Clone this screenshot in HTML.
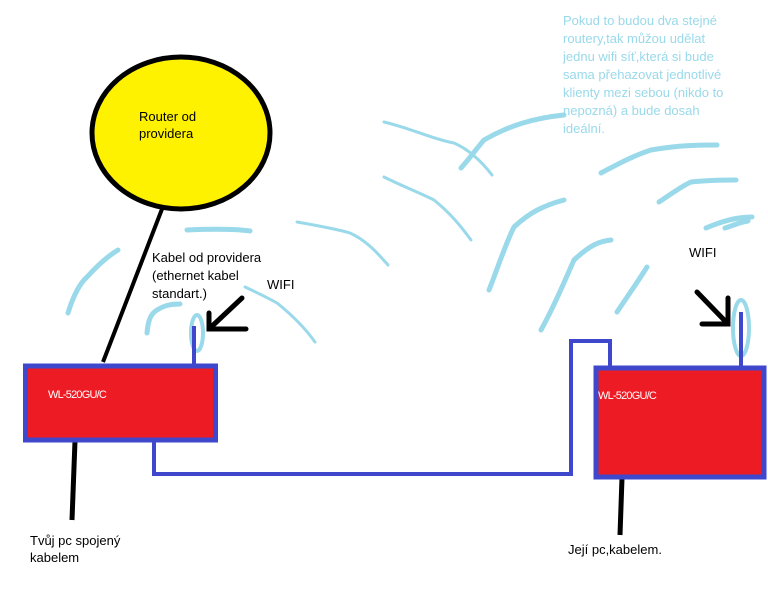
<!DOCTYPE html>
<html><head><meta charset="utf-8"><style>
html,body{margin:0;padding:0;background:#fff}
svg{display:block}
text{font-family:"Liberation Sans","DejaVu Sans",sans-serif}
</style></head><body>
<svg width="768" height="614" viewBox="0 0 768 614" xmlns="http://www.w3.org/2000/svg">
<rect width="768" height="614" fill="#fff"/>
<g fill="none" stroke="#99d9ea" stroke-linecap="round" stroke-linejoin="round">
 <g stroke-width="5">
  <path d="M68,313 C72,300 78,285 87,277 C97,266 108,256 118,250"/>
  <path d="M147,333 C148,322 150,314 157,310 C165,305 172,304 180,304"/>
  <path d="M187,230 C210,229 235,229 250,231"/>
  <path d="M461,168 C470,158 477,148 484,140 C510,125 535,118 564,115"/>
  <path d="M489,290 C497,270 505,245 514,227 C530,212 545,205 564,200"/>
  <path d="M541,330 C555,305 565,280 574,260 C590,245 600,241 611,240"/>
  <path d="M617,312 C627,297 637,283 647,267"/>
  <path d="M601,173 C620,163 635,155 651,150 C680,145 700,145 717,145"/>
  <path d="M659,202 C670,195 680,187 691,182 C710,180 725,180 736,180"/>
  <path d="M706,228 C720,222 735,217 752,217"/>
  <path d="M725,228 C735,225 740,222 748,221"/>
 </g>
 <ellipse cx="197" cy="333" rx="6" ry="18" stroke-width="4"/>
 <ellipse cx="741" cy="328" rx="8" ry="28" stroke-width="4"/>
 <g stroke-width="3">
  <path d="M297,222 C320,226 340,230 350,233 C365,240 375,250 388,265"/>
  <path d="M245,287 C258,293 268,298 277,303 C292,315 305,328 315,342"/>
  <path d="M384,122 C410,128 435,140 454,143 C470,150 482,162 492,175"/>
  <path d="M384,177 C400,185 420,193 434,200 C450,213 460,225 471,240"/>
 </g>
</g>
<ellipse cx="181" cy="133" rx="89" ry="76" fill="#fff200" stroke="#000" stroke-width="5"/>
<text x="139" y="121" font-size="13" fill="#000">Router od</text>
<text x="139" y="138" font-size="13" fill="#000">providera</text>
<line x1="162" y1="209" x2="103" y2="362" stroke="#000" stroke-width="4"/>
<line x1="75" y1="441" x2="72" y2="520" stroke="#000" stroke-width="5"/>
<line x1="622" y1="478" x2="620" y2="535" stroke="#000" stroke-width="5"/>
<line x1="194" y1="326" x2="194" y2="364" stroke="#3f48cc" stroke-width="4"/>
<line x1="741" y1="312" x2="741" y2="366" stroke="#3f48cc" stroke-width="4"/>
<path d="M154,441 V474 H571 V341 H610 V367" fill="none" stroke="#3f48cc" stroke-width="4"/>
<rect x="25.5" y="366" width="190" height="74" fill="#ed1c24" stroke="#3f48cc" stroke-width="5"/>
<rect x="596" y="368" width="168" height="109" fill="#ed1c24" stroke="#3f48cc" stroke-width="5"/>
<text x="48" y="398" font-size="11" fill="#fff" letter-spacing="-0.8">WL-520GU/C</text>
<text x="598" y="399" font-size="11" fill="#fff" letter-spacing="-0.8">WL-520GU/C</text>
<g stroke="#000" stroke-width="5" stroke-linecap="round" fill="none">
 <path d="M242,298 L209,329 M209,313 V329 H246"/>
 <path d="M697,292 L728,324 M728,298 V324 H702"/>
</g>
<g font-size="13" fill="#000">
 <text x="152" y="262">Kabel od providera</text>
 <text x="152" y="280">(ethernet kabel</text>
 <text x="152" y="298">standart.)</text>
 <text x="267" y="289">WIFI</text>
 <text x="689" y="257">WIFI</text>
 <text x="30" y="545">Tvůj pc spojený</text>
 <text x="30" y="562">kabelem</text>
 <text x="568" y="554">Její pc,kabelem.</text>
</g>
<g font-size="13" fill="#99d9ea">
 <text x="563" y="25">Pokud to budou dva stejné</text>
 <text x="563" y="43">routery,tak můžou udělat</text>
 <text x="563" y="61">jednu wifi síť,která si bude</text>
 <text x="563" y="79">sama přehazovat jednotlivé</text>
 <text x="563" y="97">klienty mezi sebou (nikdo to</text>
 <text x="563" y="115">nepozná) a bude dosah</text>
 <text x="563" y="133">ideální.</text>
</g>
</svg>
</body></html>
